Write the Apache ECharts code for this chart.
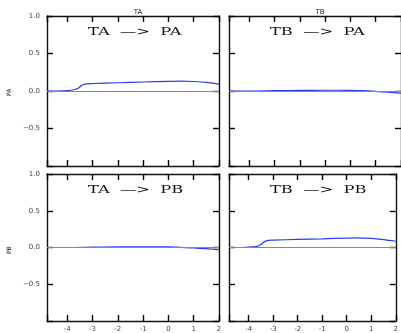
<!DOCTYPE html>
<html>
<head>
<meta charset="utf-8">
<script src="https://cdn.jsdelivr.net/npm/echarts@6/dist/echarts.min.js"></script>
<style>html,body{margin:0;padding:0;background:#fff}#main{width:401px;height:333px}</style>
</head>
<body>
<div id="main"></div>
<script>
// 面板数据 (x, y)
let colNames = ['TA', 'TB']
let rowNames = ['PA', 'PB']
let xTA_PA = [-4.8, -4.4, -4.0, -3.7, -3.55, -3.4, -3.25, -3.0, -2.0, -1.0, 0.0, 0.5, 1.0, 1.5, 2.0]
let yTA_PA = [0, 0, 0.005, 0.02, 0.04, 0.08, 0.095, 0.1, 0.11, 0.12, 0.128, 0.132, 0.127, 0.115, 0.092]
let xTB_PA = [-4.8, -4.0, -3.0, -2.0, -1.0, -0.5, 0.0, 0.5, 1.0, 1.5, 2.0]
let yTB_PA = [0, 0, 0.004, 0.008, 0.01, 0.01, 0.008, 0.004, -0.005, -0.015, -0.03]
let xTA_PB = [-4.8, -4.0, -3.0, -2.0, -1.0, -0.5, 0.0, 0.5, 1.0, 1.5, 2.0]
let yTA_PB = [0, 0, 0.004, 0.008, 0.01, 0.01, 0.008, 0.003, -0.006, -0.016, -0.03]
let xTB_PB = [-4.8, -4.4, -3.9, -3.65, -3.5, -3.35, -3.2, -3.0, -2.0, -1.0, 0.0, 0.3, 1.0, 1.5, 2.0]
let yTB_PB = [0, 0, 0.008, 0.015, 0.04, 0.08, 0.097, 0.1, 0.11, 0.118, 0.128, 0.13, 0.123, 0.108, 0.085]
let xTicks = [-4, -3, -2, -1, 0, 1, 2]
let yTicks = [1.0, 0.5, 0.0, -0.5]

let panels = [
  {x: xTA_PA, y: yTA_PA, label: 'TA  —>  PA', left: 47, top: 16},
  {x: xTB_PA, y: yTB_PA, label: 'TB  —>  PA', left: 229, top: 16},
  {x: xTA_PB, y: yTA_PB, label: 'TA  —>  PB', left: 47, top: 174},
  {x: xTB_PB, y: yTB_PB, label: 'TB  —>  PB', left: 229, top: 174}
]
let W = 172, H = 150

let chart = echarts.init(document.getElementById('main'))
let option = {
  animation: false,
  title: [
    {text: colNames[0], left: 47 + W / 2, top: 4, textAlign: 'center', textStyle: {fontSize: 7, fontWeight: 'normal', color: '#222', fontFamily: 'DejaVu Sans'}},
    {text: colNames[1], left: 229 + W / 2, top: 4, textAlign: 'center', textStyle: {fontSize: 7, fontWeight: 'normal', color: '#222', fontFamily: 'DejaVu Sans'}}
  ],
  graphic: [],
  grid: [], xAxis: [], yAxis: [], series: []
}

rowNames.forEach((n, r) => {
  option.graphic.push({type: 'text', x: 6, y: 16 + r * 158 + H / 2 + 5, rotation: Math.PI / 2,
    style: {text: n, fontSize: 6, fill: '#222', fontFamily: 'DejaVu Sans'}})
})

//- 刻度轴（只画线和内刻度）与标签轴分开
function tickAxis(i, pos, isX) {
  let a = {type: 'value', gridIndex: i, position: pos, splitLine: {show: false}, axisLabel: {show: false},
    axisLine: {show: true, onZero: false, lineStyle: {color: '#111', width: 1.4}},
    axisTick: {show: true, inside: true, length: 6, lineStyle: {color: '#000', width: 1.4}}}
  return isX ? Object.assign(a, {min: -4.8, max: 2, splitNumber: 7}) : Object.assign(a, {min: -1, max: 1, interval: 0.5})
}

let xi = 0, yi = 0
panels.forEach((p, i) => {
  let isBottom = i >= 2, isLeft = i % 2 === 0
  option.grid.push({left: p.left, top: p.top, width: W, height: H})
  // 标签轴（数据用这一组）
  let bx = xi++, by = yi++
  option.xAxis.push({type: 'value', gridIndex: i, min: -4.8, max: 2, splitNumber: 7, position: 'bottom',
    axisLine: {show: false, onZero: false}, axisTick: {show: false}, splitLine: {show: false},
    axisLabel: {show: isBottom, fontSize: 7, color: '#444', margin: 5, fontFamily: 'DejaVu Sans',
      formatter: v => xTicks.indexOf(v) >= 0 ? String(v) : ''}})
  option.yAxis.push({type: 'value', gridIndex: i, min: -1, max: 1, interval: 0.5, position: 'left',
    axisLine: {show: false, onZero: false}, axisTick: {show: false}, splitLine: {show: false},
    axisLabel: {show: isLeft, fontSize: 7, color: '#444', margin: 7, fontFamily: 'DejaVu Sans',
      formatter: v => yTicks.indexOf(v) >= 0 ? (v < 0 ? '\u2212' + Math.abs(v).toFixed(1) : v.toFixed(1)) : ''}})
  // 四边刻度轴
  option.xAxis.push(tickAxis(i, 'bottom', true)); xi++
  option.xAxis.push(tickAxis(i, 'top', true)); xi++
  option.yAxis.push(tickAxis(i, 'left', false)); yi++
  option.yAxis.push(tickAxis(i, 'right', false)); yi++
  option.series.push({
    type: 'line', xAxisIndex: bx, yAxisIndex: by, data: p.x.map((x, k) => [x, p.y[k]]),
    smooth: 0.3, showSymbol: false, lineStyle: {color: '#2b3cf0', width: 1.2},
    markLine: {silent: true, symbol: 'none', label: {show: false}, lineStyle: {color: '#888', width: 1, type: 'solid'}, data: [{yAxis: 0}]},
    z: 3
  })
  // 面板内标注，横向拉伸以匹配原图字宽
  option.graphic.push({type: 'text', x: p.left + 41, y: p.top + 11, scaleX: 1.48,
    style: {text: p.label, fontSize: 11, fill: '#111', fontFamily: 'DejaVu Serif'}})
})

chart.setOption(option)
</script>
</body>
</html>
